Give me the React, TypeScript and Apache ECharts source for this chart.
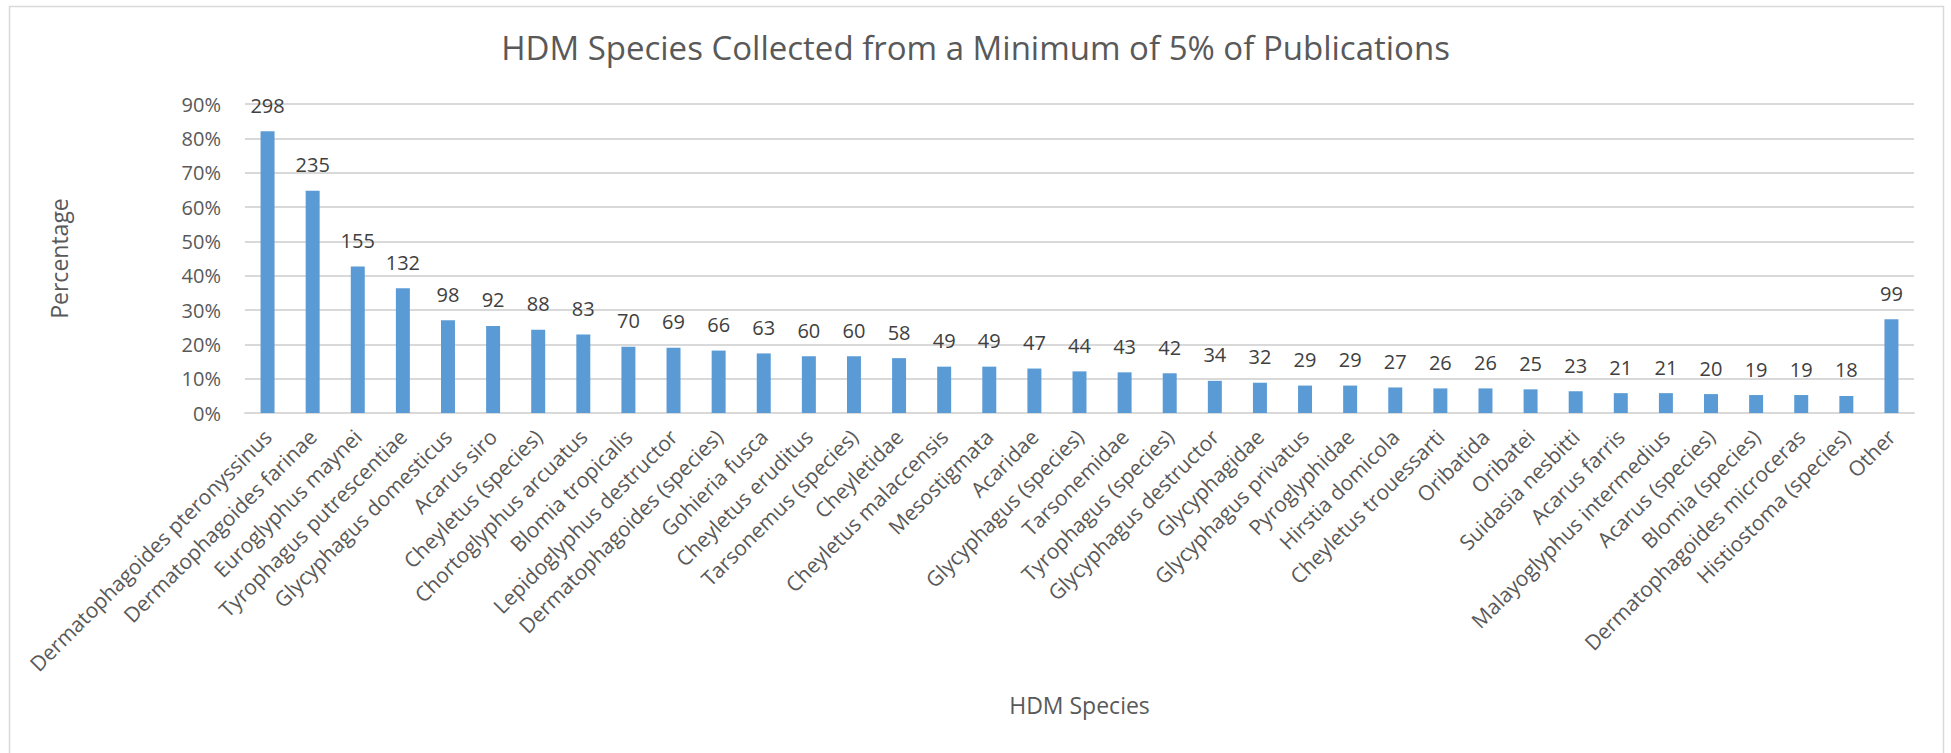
import React, { useEffect, useRef } from "react";
import * as echarts from "echarts";

// Species collected, in order of frequency (with "Other" last)
const species: string[] = [
  "Dermatophagoides pteronyssinus",
  "Dermatophagoides farinae",
  "Euroglyphus maynei",
  "Tyrophagus putrescentiae",
  "Glycyphagus domesticus",
  "Acarus siro",
  "Cheyletus (species)",
  "Chortoglyphus arcuatus",
  "Blomia tropicalis",
  "Lepidoglyphus destructor",
  "Dermatophagoides (species)",
  "Gohieria fusca",
  "Cheyletus eruditus",
  "Tarsonemus (species)",
  "Cheyletidae",
  "Cheyletus malaccensis",
  "Mesostigmata",
  "Acaridae",
  "Glycyphagus (species)",
  "Tarsonemidae",
  "Tyrophagus (species)",
  "Glycyphagus destructor",
  "Glycyphagidae",
  "Glycyphagus privatus",
  "Pyroglyphidae",
  "Hirstia domicola",
  "Cheyletus trouessarti",
  "Oribatida",
  "Oribatei",
  "Suidasia nesbitti",
  "Acarus farris",
  "Malayoglyphus intermedius",
  "Acarus (species)",
  "Blomia (species)",
  "Dermatophagoides microceras",
  "Histiostoma (species)",
  "Other",
];

// Number of publications in which each species was collected
const publicationCounts: number[] = [
  298, 235, 155, 132, 98, 92, 88, 83, 70, 69, 66, 63, 60, 60, 58, 49, 49, 47,
  44, 43, 42, 34, 32, 29, 29, 27, 26, 26, 25, 23, 21, 21, 20, 19, 19, 18, 99,
];

// Total number of publications reviewed
const totalPublications = 363;

const yTicks = { min: 0, max: 0.9, interval: 0.1 };

const FONT = "'Open Sans', sans-serif";

export default function App() {
  const ref = useRef<HTMLDivElement>(null);

  useEffect(() => {
    if (!ref.current) return;
    const chart = echarts.init(ref.current, null, { renderer: "svg" });

    const data = publicationCounts.map((count) => ({
      value: count / totalPublications,
      count,
    }));

    chart.setOption({
      animation: false,
      backgroundColor: "#ffffff",
      title: {
        text: "HDM Species Collected from a Minimum of 5% of Publications",
        left: "center",
        top: 26,
        textStyle: {
          fontFamily: FONT,
          fontSize: 33,
          fontWeight: "normal",
          color: "#595959",
        },
      },
      graphic: [
        {
          type: "rect",
          shape: { x: 9.5, y: 6.5, width: 1934, height: 770 },
          style: { fill: "none", stroke: "#d9d9d9", lineWidth: 1.5 },
          silent: true,
        },
      ],
      grid: { left: 245, right: 37, top: 104, bottom: 340, containLabel: false },
      xAxis: {
        type: "category",
        data: species,
        name: "HDM Species",
        nameLocation: "middle",
        nameGap: 280,
        nameTextStyle: { fontFamily: FONT, fontSize: 23, color: "#595959" },
        axisLine: { lineStyle: { color: "#d9d9d9", width: 2 } },
        axisTick: { show: false },
        axisLabel: {
          interval: 0,
          rotate: 45,
          margin: 20,
          fontFamily: FONT,
          fontSize: 21,
          color: "#595959",
        },
      },
      yAxis: {
        type: "value",
        min: yTicks.min,
        max: yTicks.max,
        interval: yTicks.interval,
        name: "Percentage",
        nameLocation: "middle",
        nameGap: 175,
        nameRotate: 90,
        nameTextStyle: { fontFamily: FONT, fontSize: 23, color: "#595959" },
        axisLine: { show: false },
        axisTick: { show: false },
        splitLine: { lineStyle: { color: "#d9d9d9", width: 2 } },
        axisLabel: {
          margin: 24,
          fontFamily: FONT,
          fontSize: 20,
          color: "#595959",
          formatter: (v: number) => `${Math.round(v * 100)}%`,
        },
      },
      series: [
        {
          type: "bar",
          data,
          barWidth: "31%",
          itemStyle: { color: "#5b9bd5" },
          label: {
            show: true,
            position: "top",
            distance: 16,
            fontFamily: FONT,
            fontSize: 20,
            color: "#404040",
            formatter: (p: any) => String(p.data.count),
          },
        },
      ],
    });

    return () => chart.dispose();
  }, []);

  return (
    <div
      ref={ref}
      style={{
        position: "absolute",
        left: 0,
        top: 0,
        width: 1951,
        height: 753,
      }}
    />
  );
}
